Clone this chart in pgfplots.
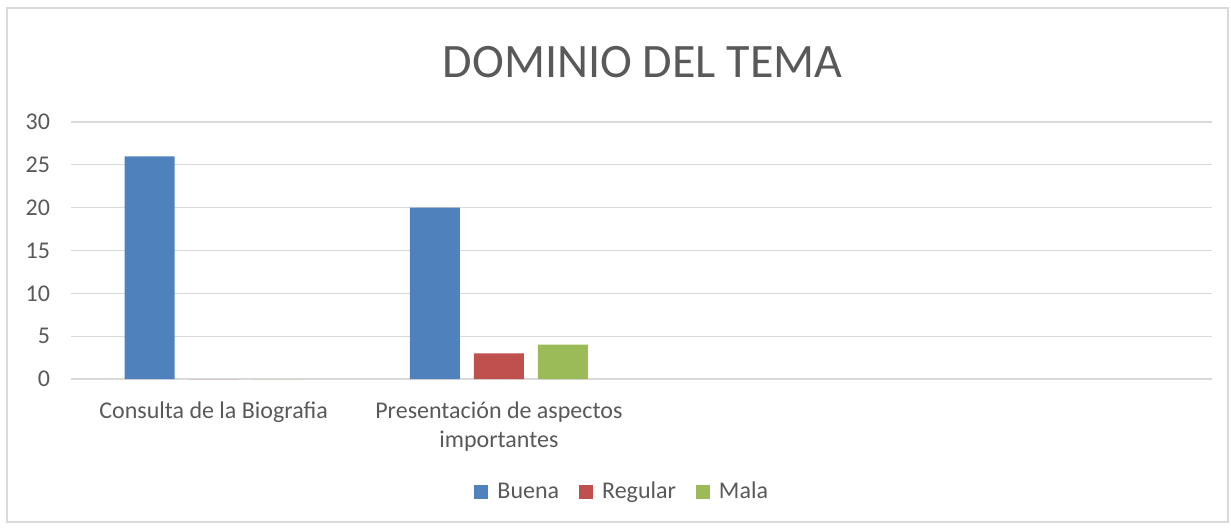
\documentclass[border=0pt]{standalone}
\usepackage{pgfplots}
\pgfplotsset{compat=1.18}
\usepackage{fontspec}
\setmainfont{Carlito}
\definecolor{txt}{RGB}{89,89,89}
\definecolor{gridc}{RGB}{217,217,217}
\definecolor{buena}{RGB}{79,129,189}
\definecolor{regular}{RGB}{192,80,77}
\definecolor{mala}{RGB}{155,187,89}
\begin{document}
\begin{tikzpicture}
% page and frame (1 px = 0.5 pt)
\path (0,0) rectangle (615.5pt,263.5pt);
\draw[gridc, line width=0.6pt] (3.5pt,2.5pt) rectangle (614pt,259.5pt);
\begin{axis}[
    at={(35.5pt,74pt)}, anchor=south west,
    scale only axis, width=570.5pt, height=128.5pt,
    clip=false,
    ybar=7pt, bar width=25pt,
    xmin=-0.5, xmax=3.5, ymin=0, ymax=30,
    ytick={0,5,...,30},
    xtick={0,1},
    xticklabels={Consulta de la Biografia, {Presentación de aspectos\\importantes}},
    xticklabel style={align=center, font=\fontsize{12}{14.5}\selectfont, text=txt, yshift=-8pt},
    yticklabel style={font=\fontsize{12}{14}\selectfont, text=txt, xshift=-7pt},
    /pgf/number format/assume math mode=true,
    major tick length=0pt,
    axis line style={draw=none},
    ymajorgrids, grid style={gridc, line width=0.6pt},
    legend columns=3,
    legend style={at={(0.484,-0.44)}, anchor=center, draw=none, fill=none,
        font=\fontsize{12}{14}\selectfont, text=txt,
        /tikz/every odd column/.append style={column sep=2.5pt},
        /tikz/every even column/.append style={column sep=8pt}},
    legend image code/.code={\fill[#1] (0pt,-3.5pt) rectangle (7pt,3.5pt);},
]
\addplot[fill=buena, draw=none] coordinates {(0,26) (1,20)};
\addlegendentry{Buena}
\addplot[fill=regular, draw=none] coordinates {(0,0) (1,3)};
\addlegendentry{Regular}
\addplot[fill=mala, draw=none] coordinates {(0,0) (1,4)};
\addlegendentry{Mala}
\node[text=txt, font=\fontsize{24}{28}\selectfont] at (axis description cs:0.501,1.233) {DOMINIO DEL TEMA};
\end{axis}
\end{tikzpicture}
\end{document}
